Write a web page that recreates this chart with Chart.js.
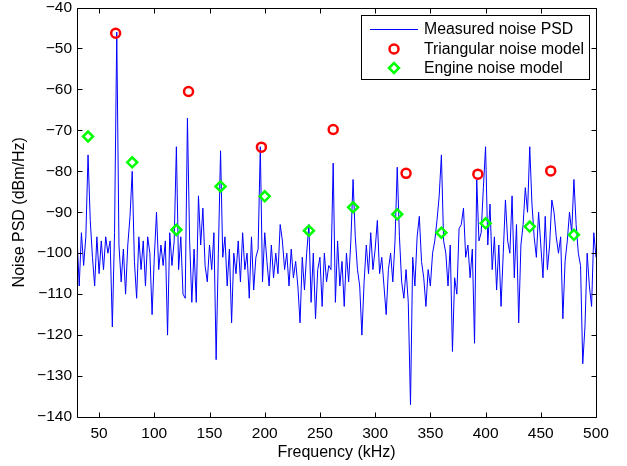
<!DOCTYPE html>
<html>
<head>
<meta charset="utf-8">
<script src="https://cdn.jsdelivr.net/npm/chart.js@4.4.1/dist/chart.umd.min.js"></script>
<style>
  html, body { margin: 0; padding: 0; background: #fff; }
  #wrap { width: 627px; height: 466px; position: relative; }
</style>
</head>
<body>
<div id="wrap"><canvas id="chart"></canvas></div>
<script>
// measured PSD, one value every 2 kHz starting at 30 kHz (dBm/Hz)
const psdStartKHz = 30;
const psdStepKHz = 2;
const psdValues = [
  -96, -108, -95, -103, -96,
  -76, -92, -101, -108, -96,
  -105, -97, -104, -96, -100,
  -97, -118, -95, -46, -98,
  -107, -99, -110, -98, -91,
  -80, -102, -111, -96, -104,
  -97, -108, -96, -100, -115,
  -101, -90, -104, -98, -103,
  -97, -120, -95, -103, -97,
  -74, -104, -96, -110, -111,
  -67, -97, -112, -99, -112,
  -86, -98, -89, -103, -107,
  -98, -104, -95, -126, -100,
  -75, -101, -96, -108, -99,
  -117, -100, -105, -97, -107,
  -95, -104, -100, -111, -96,
  -109, -101, -99, -74, -107,
  -95, -102, -108, -98, -106,
  -100, -105, -93, -97, -104,
  -100, -108, -99, -106, -102,
  -108, -117, -101, -109, -100,
  -93, -112, -100, -116, -104,
  -101, -113, -100, -107, -103,
  -104, -78, -112, -97, -108,
  -102, -113, -100, -107, -97,
  -82, -96, -104, -108, -120,
  -107, -98, -105, -95, -104,
  -99, -92, -105, -101, -108,
  -115, -104, -100, -107, -97,
  -79, -96, -107, -111, -104,
  -112, -137, -101, -108, -96,
  -91, -102, -106, -113, -104,
  -108, -100, -97, -92, -86,
  -76, -97, -100, -108, -98,
  -124, -106, -110, -94, -93,
  -89, -101, -98, -106, -99,
  -122, -82, -97, -95, -84,
  -74, -98, -88, -104, -96,
  -109, -98, -113, -100, -87,
  -97, -100, -86, -106, -93,
  -117, -98, -93, -84, -90,
  -74, -88, -96, -101, -90,
  -98, -106, -91, -104, -98,
  -87, -90, -96, -100, -96,
  -116, -102, -97, -90, -95,
  -82, -93, -100, -103, -127,
  -118, -100, -108, -113, -95,
  -101
];

// triangular noise model (red circles)
const triFreq = [65, 131, 197, 262, 328, 393, 459];
const triPsd = [-46.3, -60.5, -74.1, -69.8, -80.5, -80.7, -79.9];

// engine noise model (green diamonds)
const engFreq = [40, 80, 120, 160, 200, 240, 280, 320, 360, 400, 440, 480];
const engPsd = [-71.5, -77.8, -94.3, -83.7, -86.1, -94.5, -88.8, -90.5, -95, -92.7, -93.5, -95.5];

const xTicks = [50, 100, 150, 200, 250, 300, 350, 400, 450, 500];
const yTicks = [-140, -130, -120, -110, -100, -90, -80, -70, -60, -50, -40];

const FONT = "'Liberation Sans', Arial, Helvetica, sans-serif";

const psdPoints = psdValues.map((v, i) => ({ x: psdStartKHz + i * psdStepKHz, y: v }));
const triPoints = triFreq.map((f, i) => ({ x: f, y: triPsd[i] }));
const engPoints = engFreq.map((f, i) => ({ x: f, y: engPsd[i] }));

// box around the axes with inward ticks, matlab style
const matlabFrame = {
  id: 'matlabFrame',
  afterDatasetsDraw(chart) {
    const { ctx, chartArea: a, scales: { x, y } } = chart;
    const L = Math.round(a.left) + 0.5, R = Math.round(a.right) + 0.5;
    const T = Math.round(a.top) + 0.5, B = Math.round(a.bottom) + 0.5;
    const tl = 5;
    ctx.save();
    ctx.strokeStyle = '#000';
    ctx.lineWidth = 1;
    ctx.beginPath();
    ctx.rect(L, T, R - L, B - T);
    xTicks.forEach(v => {
      const px = Math.round(x.getPixelForValue(v)) + 0.5;
      ctx.moveTo(px, B); ctx.lineTo(px, B - tl);
      ctx.moveTo(px, T); ctx.lineTo(px, T + tl);
    });
    yTicks.forEach(v => {
      const py = Math.round(y.getPixelForValue(v)) + 0.5;
      ctx.moveTo(L, py); ctx.lineTo(L + tl, py);
      ctx.moveTo(R, py); ctx.lineTo(R - tl, py);
    });
    ctx.stroke();
    ctx.restore();
  }
};

// legend box inside the top right of the axes
const boxLegend = {
  id: 'boxLegend',
  afterDraw(chart) {
    const ctx = chart.ctx;
    const ds = chart.data.datasets;
    const bx = 361.5, by = 15.5, bw = 228, bh = 64;
    const rowY = [29, 49, 68];
    const symX = 394, textX = 424;
    ctx.save();
    ctx.fillStyle = '#fff';
    ctx.fillRect(bx, by, bw, bh);
    ctx.strokeStyle = '#000';
    ctx.lineWidth = 1;
    ctx.strokeRect(bx, by, bw, bh);

    // line sample
    ctx.strokeStyle = ds[0].borderColor;
    ctx.lineWidth = ds[0].borderWidth;
    ctx.beginPath();
    ctx.moveTo(370, rowY[0] + 0.5);
    ctx.lineTo(418, rowY[0] + 0.5);
    ctx.stroke();

    // marker samples
    [1, 2].forEach(k => {
      ctx.strokeStyle = ds[k].pointBorderColor;
      ctx.fillStyle = 'rgba(0,0,0,0)';
      ctx.lineWidth = ds[k].pointBorderWidth;
      Chart.helpers.drawPoint(ctx, {
        pointStyle: ds[k].pointStyle,
        radius: ds[k].pointRadius,
        borderWidth: ds[k].pointBorderWidth,
        rotation: 0
      }, symX, rowY[k]);
    });

    ctx.fillStyle = '#000';
    ctx.font = '15.8px ' + FONT;
    ctx.textBaseline = 'middle';
    ctx.textAlign = 'left';
    ds.forEach((d, k) => ctx.fillText(d.label, textX, rowY[k] + 1));
    ctx.restore();
  }
};

new Chart(document.getElementById('chart'), {
  type: 'scatter',
  data: {
    datasets: [
      {
        label: 'Measured noise PSD',
        data: psdPoints,
        showLine: true,
        borderColor: '#0000ff',
        borderWidth: 1,
        pointRadius: 0,
        tension: 0,
        order: 2
      },
      {
        label: 'Triangular noise model',
        data: triPoints,
        showLine: false,
        pointStyle: 'circle',
        pointRadius: 4.5,
        pointBorderWidth: 2.5,
        pointBorderColor: '#ff0000',
        pointBackgroundColor: 'rgba(0,0,0,0)',
        order: 1
      },
      {
        label: 'Engine noise model',
        data: engPoints,
        showLine: false,
        pointStyle: 'rectRot',
        pointRadius: 5,
        pointBorderWidth: 2.5,
        pointBorderColor: '#00ff00',
        pointBackgroundColor: 'rgba(0,0,0,0)',
        order: 1
      }
    ]
  },
  options: {
    responsive: true,
    maintainAspectRatio: false,
    animation: false,
    layout: { padding: { top: 7, right: 31, left: 0, bottom: 0 } },
    plugins: {
      legend: { display: false },
      tooltip: { enabled: false }
    },
    scales: {
      x: {
        type: 'linear',
        min: 30,
        max: 500,
        grid: { display: false, drawTicks: false },
        border: { display: false },
        afterBuildTicks: s => { s.ticks = xTicks.map(v => ({ value: v })); },
        afterFit: s => { s.height = 49; s.paddingLeft = 0; s.paddingRight = 0; },
        ticks: {
          color: '#000',
          font: { family: FONT, size: 15.5 },
          padding: 7,
          maxRotation: 0,
          autoSkip: false
        },
        title: {
          display: true,
          text: 'Frequency (kHz)',
          color: '#000',
          font: { family: FONT, size: 16 },
          padding: { top: 0, bottom: 4 }
        }
      },
      y: {
        min: -140,
        max: -40,
        grid: { display: false, drawTicks: false },
        border: { display: false },
        afterBuildTicks: s => { s.ticks = yTicks.map(v => ({ value: v })); },
        afterFit: s => { s.width = 77; s.paddingTop = 0; s.paddingBottom = 0; },
        ticks: {
          color: '#000',
          font: { family: FONT, size: 15.5 },
          padding: 5,
          callback: v => (v < 0 ? '\u2212' + Math.abs(v) : String(v))
        },
        title: {
          display: true,
          text: 'Noise PSD (dBm/Hz)',
          color: '#000',
          font: { family: FONT, size: 16 },
          padding: { top: 10, bottom: 0 }
        }
      }
    }
  },
  plugins: [matlabFrame, boxLegend]
});
</script>
</body>
</html>
